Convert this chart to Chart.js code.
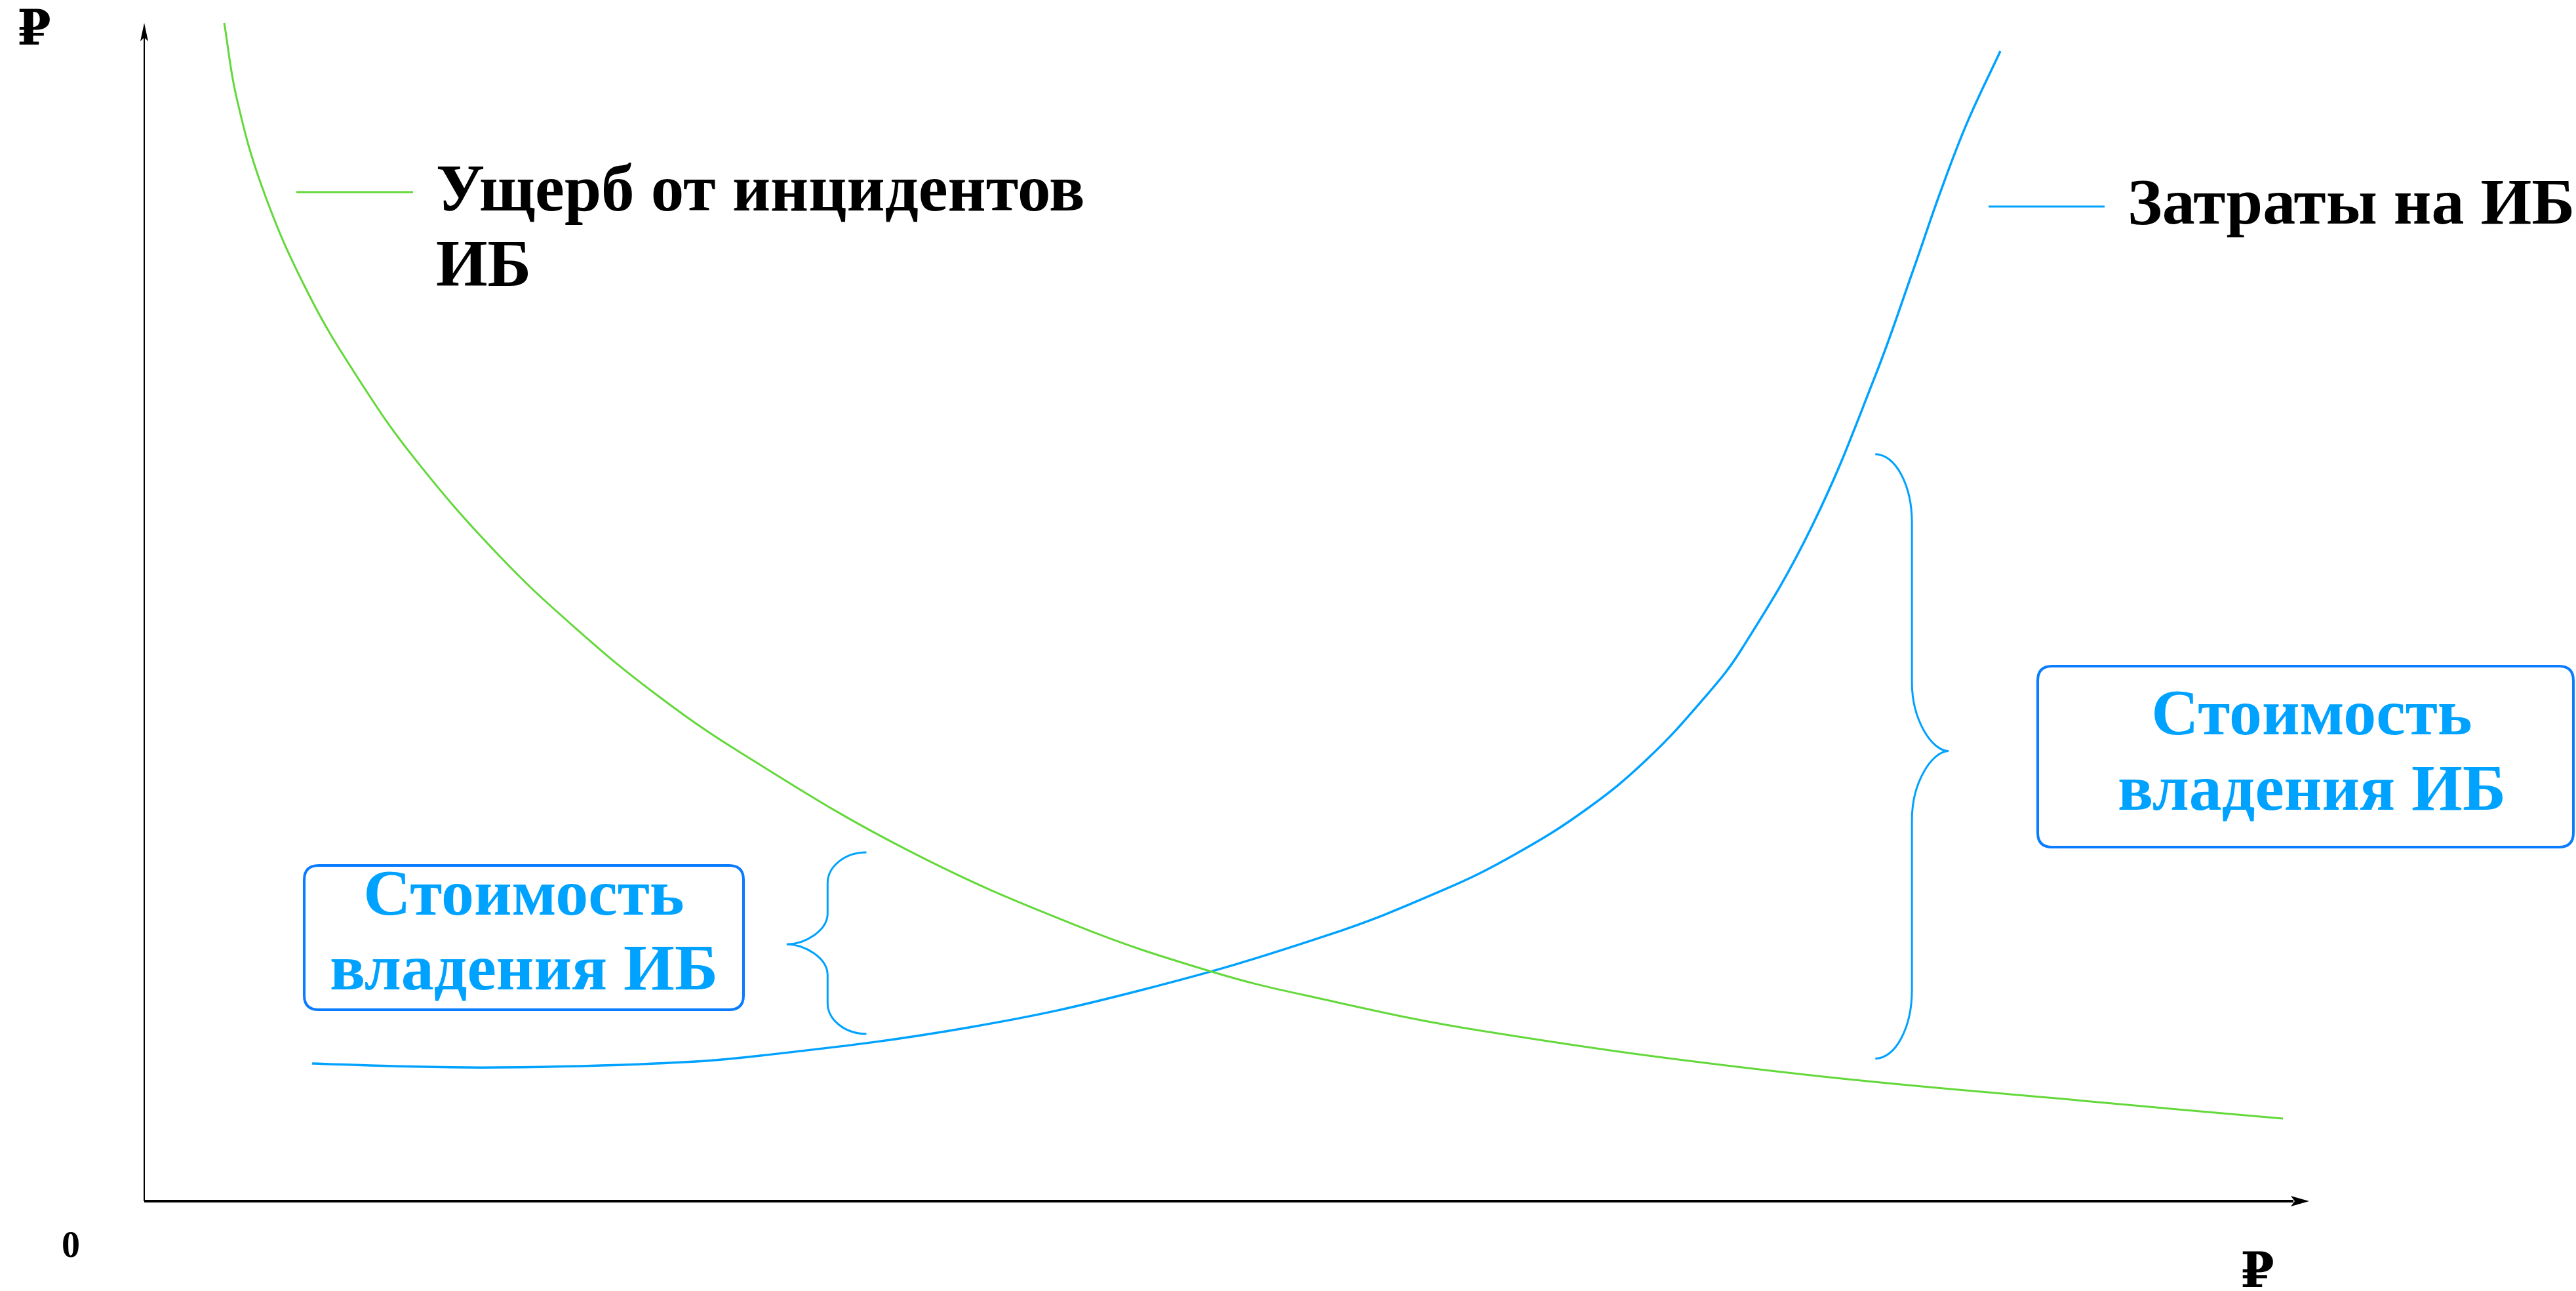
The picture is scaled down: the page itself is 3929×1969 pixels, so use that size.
<!DOCTYPE html>
<html>
<head>
<meta charset="utf-8">
<script src="https://cdn.jsdelivr.net/npm/chart.js@4.4.1/dist/chart.umd.min.js"></script>
<style>
  html, body { margin: 0; padding: 0; background: #fff; }
  #wrap { width: 3929px; height: 1969px; }
</style>
</head>
<body>
<div id="wrap"><canvas id="chart"></canvas></div>
<script>
// values (x: spend on security, y: roubles, both 0..100)
const damageX = [3.71, 4.29, 5.54, 7.6, 9.98, 12.56, 16.42, 20.07, 23.78, 27.86, 35.37, 43.13, 49.42, 54.14, 62.01, 75.97, 89.96, 99.21];
const damageY = [100, 93.6, 85.7, 77.07, 69.67, 62.99, 54.87, 48.53, 42.96, 37.84, 29.83, 23.48, 19.53, 17.36, 14.47, 10.96, 8.51, 7.01];
const costX = [7.79, 11.56, 16.42, 23.72, 28.59, 38.26, 46.26, 54.84, 60.22, 63.59, 66.91, 69.71, 72.38, 74.12, 77.37, 80.29, 82.12, 83.33, 84.55, 86.1];
const costY = [11.69, 11.46, 11.35, 11.69, 12.35, 14.75, 17.92, 22.54, 26.38, 29.44, 33.28, 37.51, 42.74, 46.91, 57.32, 70.01, 79.35, 85.7, 91.49, 97.61];

const seriesLabels = [["Ущерб от инцидентов", "ИБ"], ["Затраты на ИБ"]];
const tcoLabel = ["Стоимость", "владения ИБ"];
const axisLabels = { y: "₽", x: "₽", origin: "0" };

// brackets: [tip x, spine x, end x, top y, middle y, bottom y] in data units
const bracketSmall = [29.8, 31.7, 33.5, 29.6, 21.8, 14.2];
const bracketBig = [83.7, 82.0, 80.3, 63.4, 38.2, 12.1];

const GREEN = "#63d83a";
const BLUE = "#00a2ff";
const BOX = "#0a7cff";
const FONT = '"Liberation Serif", "DejaVu Serif", serif';

const toPoints = (xs, ys) => xs.map((x, i) => ({ x: x, y: ys[i] }));

function roundRect(ctx, x, y, w, h, r) {
  ctx.beginPath();
  ctx.moveTo(x + r, y);
  ctx.lineTo(x + w - r, y);
  ctx.quadraticCurveTo(x + w, y, x + w, y + r);
  ctx.lineTo(x + w, y + h - r);
  ctx.quadraticCurveTo(x + w, y + h, x + w - r, y + h);
  ctx.lineTo(x + r, y + h);
  ctx.quadraticCurveTo(x, y + h, x, y + h - r);
  ctx.lineTo(x, y + r);
  ctx.quadraticCurveTo(x, y, x + r, y);
  ctx.closePath();
}

function brace(ctx, chart, b, r) {
  const xs = chart.scales.x, ys = chart.scales.y;
  const xt = xs.getPixelForValue(b[0]), xv = xs.getPixelForValue(b[1]), xe = xs.getPixelForValue(b[2]);
  const yt = ys.getPixelForValue(b[3]), ym = ys.getPixelForValue(b[4]), yb = ys.getPixelForValue(b[5]);
  const k = 0.55;
  ctx.beginPath();
  ctx.moveTo(xe, yt);
  ctx.bezierCurveTo(xe + (xv - xe) * k, yt, xv, yt + r * (1 - k), xv, yt + r);
  ctx.lineTo(xv, ym - r);
  ctx.bezierCurveTo(xv, ym - r * (1 - k), xt + (xv - xt) * (1 - k), ym, xt, ym);
  ctx.bezierCurveTo(xt + (xv - xt) * (1 - k), ym, xv, ym + r * (1 - k), xv, ym + r);
  ctx.lineTo(xv, yb - r);
  ctx.bezierCurveTo(xv, yb - r * (1 - k), xe + (xv - xe) * k, yb, xe, yb);
  ctx.stroke();
}

const decor = {
  id: "decor",
  afterDatasetsDraw(chart) {
    const ctx = chart.ctx;
    const a = chart.chartArea;
    ctx.save();

    // axes with arrows
    ctx.strokeStyle = "#000";
    ctx.fillStyle = "#000";
    ctx.lineWidth = 2;
    ctx.beginPath();
    ctx.moveTo(a.left, a.bottom);
    ctx.lineTo(a.left, a.top + 10);
    ctx.stroke();
    ctx.beginPath();
    ctx.moveTo(a.left, a.top);
    ctx.lineTo(a.left - 6, a.top + 28);
    ctx.lineTo(a.left, a.top + 22);
    ctx.lineTo(a.left + 6, a.top + 28);
    ctx.closePath();
    ctx.fill();

    ctx.lineWidth = 4;
    ctx.beginPath();
    ctx.moveTo(a.left, a.bottom);
    ctx.lineTo(a.right - 10, a.bottom);
    ctx.stroke();
    ctx.beginPath();
    ctx.moveTo(a.right + 14, a.bottom);
    ctx.lineTo(a.right - 14, a.bottom - 8);
    ctx.lineTo(a.right - 8, a.bottom);
    ctx.lineTo(a.right - 14, a.bottom + 8);
    ctx.closePath();
    ctx.fill();

    // axis labels
    ctx.textAlign = "center";
    ctx.textBaseline = "alphabetic";
    ctx.font = "bold 74px " + FONT;
    ctx.fillText(axisLabels.y, 52, 68);
    ctx.fillText(axisLabels.x, 3443, 1963);
    ctx.font = "bold 56px " + FONT;
    ctx.fillText(axisLabels.origin, 108, 1917);

    // legend entries
    ctx.lineWidth = 3;
    ctx.strokeStyle = GREEN;
    ctx.beginPath(); ctx.moveTo(452, 293); ctx.lineTo(630, 293); ctx.stroke();
    ctx.strokeStyle = BLUE;
    ctx.beginPath(); ctx.moveTo(3033, 315); ctx.lineTo(3210, 315); ctx.stroke();

    ctx.fillStyle = "#000";
    ctx.font = "bold 101px " + FONT;
    ctx.textAlign = "left";
    ctx.fillText(seriesLabels[0][0], 665, 321);
    ctx.fillText(seriesLabels[0][1], 665, 436);
    ctx.font = "bold 100px " + FONT;
    ctx.fillText(seriesLabels[1][0], 3245, 341);

    // brackets
    ctx.strokeStyle = BLUE;
    ctx.lineWidth = 3;
    brace(ctx, chart, bracketSmall, 47);
    brace(ctx, chart, bracketBig, 105);

    // boxes
    ctx.strokeStyle = BOX;
    ctx.lineWidth = 4;
    roundRect(ctx, 464, 1320, 670, 220, 22);
    ctx.stroke();
    roundRect(ctx, 3108, 1016, 817, 276, 22);
    ctx.stroke();

    ctx.fillStyle = BLUE;
    ctx.textAlign = "center";
    ctx.fillText(tcoLabel[0], 799, 1395);
    ctx.fillText(tcoLabel[1], 799, 1509);
    ctx.fillText(tcoLabel[0], 3526, 1120);
    ctx.fillText(tcoLabel[1], 3526, 1235);

    ctx.restore();
  }
};

new Chart(document.getElementById("chart"), {
  type: "line",
  data: {
    datasets: [
      {
        label: seriesLabels[0].join(" "),
        data: toPoints(damageX, damageY),
        borderColor: GREEN,
        borderWidth: 3,
        pointRadius: 0,
        tension: 0.4,
        fill: false,
      },
      {
        label: seriesLabels[1].join(" "),
        data: toPoints(costX, costY),
        borderColor: BLUE,
        borderWidth: 3.5,
        pointRadius: 0,
        tension: 0.4,
        fill: false,
      },
    ],
  },
  options: {
    responsive: true,
    maintainAspectRatio: false,
    animation: false,
    devicePixelRatio: 1,
    layout: { padding: { left: 220, right: 421, top: 35, bottom: 137 } },
    plugins: { legend: { display: false }, tooltip: { enabled: false } },
    scales: {
      x: { type: "linear", min: 0, max: 100, display: false },
      y: { type: "linear", min: 0, max: 100, display: false },
    },
    clip: false,
  },
  plugins: [decor],
});
</script>
</body>
</html>
